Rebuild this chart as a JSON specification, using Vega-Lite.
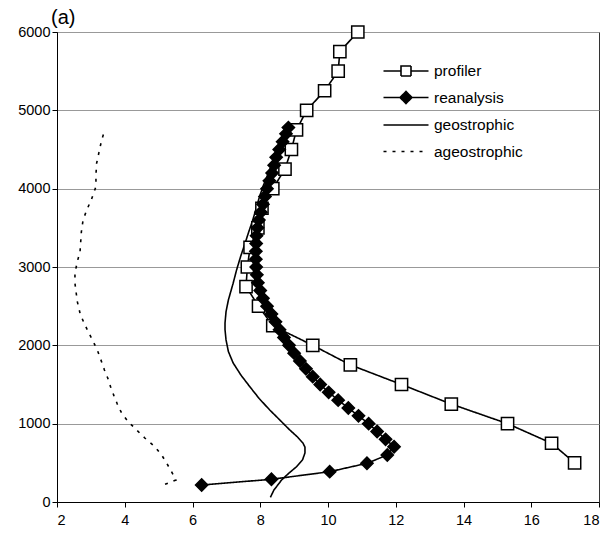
{
  "$schema": "https://vega.github.io/schema/vega-lite/v6.json",
  "width": 542,
  "height": 470,
  "autosize": "none",
  "padding": {"left": 57, "top": 32, "right": 11, "bottom": 37},
  "background": "white",
  "title": {"text": "(a)", "anchor": "start", "frame": "group", "fontSize": 20, "font": "Liberation Sans", "fontWeight": "normal", "color": "black", "dx": -6, "offset": -25, "baseline": "bottom"},
  "config": {
    "view": {"stroke": "#333", "strokeWidth": 1},
    "axis": {"labelFont": "Liberation Sans", "labelFontSize": 14.5, "labelColor": "black", "domainColor": "black", "tickColor": "black", "tickSize": 5, "title": null}
  },
  "data": {"values": [
    {"series": "profiler", "alt": 500, "speed": 17.28},
    {"series": "profiler", "alt": 750, "speed": 16.6},
    {"series": "profiler", "alt": 1000, "speed": 15.3},
    {"series": "profiler", "alt": 1250, "speed": 13.64},
    {"series": "profiler", "alt": 1500, "speed": 12.17},
    {"series": "profiler", "alt": 1750, "speed": 10.66},
    {"series": "profiler", "alt": 2000, "speed": 9.55},
    {"series": "profiler", "alt": 2250, "speed": 8.37},
    {"series": "profiler", "alt": 2500, "speed": 7.95},
    {"series": "profiler", "alt": 2750, "speed": 7.58},
    {"series": "profiler", "alt": 3000, "speed": 7.62},
    {"series": "profiler", "alt": 3250, "speed": 7.7},
    {"series": "profiler", "alt": 3500, "speed": 7.93},
    {"series": "profiler", "alt": 3750, "speed": 8.05},
    {"series": "profiler", "alt": 4000, "speed": 8.37},
    {"series": "profiler", "alt": 4250, "speed": 8.73},
    {"series": "profiler", "alt": 4500, "speed": 8.92},
    {"series": "profiler", "alt": 4750, "speed": 9.07},
    {"series": "profiler", "alt": 5000, "speed": 9.37},
    {"series": "profiler", "alt": 5250, "speed": 9.9},
    {"series": "profiler", "alt": 5500, "speed": 10.3},
    {"series": "profiler", "alt": 5750, "speed": 10.35},
    {"series": "profiler", "alt": 6000, "speed": 10.88},
    {"series": "reanalysis", "alt": 217, "speed": 6.27},
    {"series": "reanalysis", "alt": 290, "speed": 8.33},
    {"series": "reanalysis", "alt": 387, "speed": 10.05},
    {"series": "reanalysis", "alt": 494, "speed": 11.15},
    {"series": "reanalysis", "alt": 600, "speed": 11.75},
    {"series": "reanalysis", "alt": 706, "speed": 11.95},
    {"series": "reanalysis", "alt": 800, "speed": 11.7},
    {"series": "reanalysis", "alt": 900, "speed": 11.45},
    {"series": "reanalysis", "alt": 1000, "speed": 11.2},
    {"series": "reanalysis", "alt": 1100, "speed": 10.9},
    {"series": "reanalysis", "alt": 1200, "speed": 10.6},
    {"series": "reanalysis", "alt": 1300, "speed": 10.3},
    {"series": "reanalysis", "alt": 1400, "speed": 10.02},
    {"series": "reanalysis", "alt": 1500, "speed": 9.77},
    {"series": "reanalysis", "alt": 1600, "speed": 9.55},
    {"series": "reanalysis", "alt": 1700, "speed": 9.35},
    {"series": "reanalysis", "alt": 1800, "speed": 9.17},
    {"series": "reanalysis", "alt": 1900, "speed": 9.0},
    {"series": "reanalysis", "alt": 2000, "speed": 8.85},
    {"series": "reanalysis", "alt": 2100, "speed": 8.7},
    {"series": "reanalysis", "alt": 2200, "speed": 8.57},
    {"series": "reanalysis", "alt": 2300, "speed": 8.45},
    {"series": "reanalysis", "alt": 2400, "speed": 8.33},
    {"series": "reanalysis", "alt": 2500, "speed": 8.2},
    {"series": "reanalysis", "alt": 2600, "speed": 8.08},
    {"series": "reanalysis", "alt": 2700, "speed": 8.0},
    {"series": "reanalysis", "alt": 2800, "speed": 7.93},
    {"series": "reanalysis", "alt": 2900, "speed": 7.9},
    {"series": "reanalysis", "alt": 3000, "speed": 7.88},
    {"series": "reanalysis", "alt": 3100, "speed": 7.87},
    {"series": "reanalysis", "alt": 3200, "speed": 7.87},
    {"series": "reanalysis", "alt": 3300, "speed": 7.88},
    {"series": "reanalysis", "alt": 3400, "speed": 7.89},
    {"series": "reanalysis", "alt": 3500, "speed": 7.92},
    {"series": "reanalysis", "alt": 3600, "speed": 7.96},
    {"series": "reanalysis", "alt": 3700, "speed": 8.02},
    {"series": "reanalysis", "alt": 3800, "speed": 8.08},
    {"series": "reanalysis", "alt": 3900, "speed": 8.14},
    {"series": "reanalysis", "alt": 4000, "speed": 8.2},
    {"series": "reanalysis", "alt": 4100, "speed": 8.27},
    {"series": "reanalysis", "alt": 4200, "speed": 8.35},
    {"series": "reanalysis", "alt": 4300, "speed": 8.41},
    {"series": "reanalysis", "alt": 4400, "speed": 8.47},
    {"series": "reanalysis", "alt": 4500, "speed": 8.56},
    {"series": "reanalysis", "alt": 4600, "speed": 8.66},
    {"series": "reanalysis", "alt": 4700, "speed": 8.76},
    {"series": "reanalysis", "alt": 4780, "speed": 8.83},
    {"series": "geostrophic", "alt": 60, "speed": 8.3},
    {"series": "geostrophic", "alt": 150, "speed": 8.4},
    {"series": "geostrophic", "alt": 281, "speed": 8.63},
    {"series": "geostrophic", "alt": 370, "speed": 8.85},
    {"series": "geostrophic", "alt": 450, "speed": 9.07},
    {"series": "geostrophic", "alt": 540, "speed": 9.25},
    {"series": "geostrophic", "alt": 626, "speed": 9.32},
    {"series": "geostrophic", "alt": 700, "speed": 9.32},
    {"series": "geostrophic", "alt": 753, "speed": 9.26},
    {"series": "geostrophic", "alt": 830, "speed": 9.1},
    {"series": "geostrophic", "alt": 920, "speed": 8.87},
    {"series": "geostrophic", "alt": 1050, "speed": 8.57},
    {"series": "geostrophic", "alt": 1175, "speed": 8.28},
    {"series": "geostrophic", "alt": 1320, "speed": 7.97},
    {"series": "geostrophic", "alt": 1473, "speed": 7.69},
    {"series": "geostrophic", "alt": 1620, "speed": 7.43},
    {"series": "geostrophic", "alt": 1775, "speed": 7.2},
    {"series": "geostrophic", "alt": 1920, "speed": 7.06},
    {"series": "geostrophic", "alt": 2069, "speed": 6.99},
    {"series": "geostrophic", "alt": 2200, "speed": 6.96},
    {"series": "geostrophic", "alt": 2285, "speed": 6.96},
    {"series": "geostrophic", "alt": 2430, "speed": 6.99},
    {"series": "geostrophic", "alt": 2580, "speed": 7.06},
    {"series": "geostrophic", "alt": 2793, "speed": 7.2},
    {"series": "geostrophic", "alt": 2960, "speed": 7.3},
    {"series": "geostrophic", "alt": 3133, "speed": 7.42},
    {"series": "geostrophic", "alt": 3300, "speed": 7.55},
    {"series": "geostrophic", "alt": 3435, "speed": 7.65},
    {"series": "geostrophic", "alt": 3600, "speed": 7.78},
    {"series": "geostrophic", "alt": 3750, "speed": 7.88},
    {"series": "geostrophic", "alt": 3900, "speed": 7.98},
    {"series": "geostrophic", "alt": 4050, "speed": 8.1},
    {"series": "geostrophic", "alt": 4200, "speed": 8.24},
    {"series": "geostrophic", "alt": 4350, "speed": 8.38},
    {"series": "geostrophic", "alt": 4500, "speed": 8.52},
    {"series": "geostrophic", "alt": 4650, "speed": 8.66},
    {"series": "geostrophic", "alt": 4780, "speed": 8.8},
    {"series": "ageostrophic", "alt": 226, "speed": 5.19},
    {"series": "ageostrophic", "alt": 281, "speed": 5.51},
    {"series": "ageostrophic", "alt": 387, "speed": 5.38},
    {"series": "ageostrophic", "alt": 494, "speed": 5.24},
    {"series": "ageostrophic", "alt": 600, "speed": 5.09},
    {"series": "ageostrophic", "alt": 706, "speed": 4.89},
    {"series": "ageostrophic", "alt": 814, "speed": 4.6},
    {"series": "ageostrophic", "alt": 920, "speed": 4.35},
    {"series": "ageostrophic", "alt": 1026, "speed": 4.1},
    {"series": "ageostrophic", "alt": 1133, "speed": 3.91},
    {"series": "ageostrophic", "alt": 1251, "speed": 3.78},
    {"series": "ageostrophic", "alt": 1358, "speed": 3.68},
    {"series": "ageostrophic", "alt": 1473, "speed": 3.58},
    {"series": "ageostrophic", "alt": 1580, "speed": 3.5},
    {"series": "ageostrophic", "alt": 1686, "speed": 3.4},
    {"series": "ageostrophic", "alt": 1822, "speed": 3.29},
    {"series": "ageostrophic", "alt": 1941, "speed": 3.19},
    {"series": "ageostrophic", "alt": 2047, "speed": 3.07},
    {"series": "ageostrophic", "alt": 2175, "speed": 2.92},
    {"series": "ageostrophic", "alt": 2303, "speed": 2.78},
    {"series": "ageostrophic", "alt": 2410, "speed": 2.68},
    {"series": "ageostrophic", "alt": 2558, "speed": 2.6},
    {"series": "ageostrophic", "alt": 2793, "speed": 2.53},
    {"series": "ageostrophic", "alt": 2921, "speed": 2.53},
    {"series": "ageostrophic", "alt": 3069, "speed": 2.6},
    {"series": "ageostrophic", "alt": 3197, "speed": 2.68},
    {"series": "ageostrophic", "alt": 3452, "speed": 2.72},
    {"series": "ageostrophic", "alt": 3601, "speed": 2.77},
    {"series": "ageostrophic", "alt": 3729, "speed": 2.88},
    {"series": "ageostrophic", "alt": 3866, "speed": 3.02},
    {"series": "ageostrophic", "alt": 4027, "speed": 3.15},
    {"series": "ageostrophic", "alt": 4176, "speed": 3.15},
    {"series": "ageostrophic", "alt": 4325, "speed": 3.17},
    {"series": "ageostrophic", "alt": 4466, "speed": 3.24},
    {"series": "ageostrophic", "alt": 4623, "speed": 3.32},
    {"series": "ageostrophic", "alt": 4760, "speed": 3.42}
  ]},
  "encoding": {
    "x": {"field": "speed", "type": "quantitative", "scale": {"domain": [2, 18], "nice": false, "zero": false}, "axis": {"values": [2, 4, 6, 8, 10, 12, 14, 16, 18], "grid": false, "labelPadding": 6, "format": "d"}},
    "y": {"field": "alt", "type": "quantitative", "scale": {"domain": [0, 6000], "nice": false}, "axis": {"values": [0, 1000, 2000, 3000, 4000, 5000, 6000], "grid": true, "gridColor": "#999", "gridWidth": 1, "labelPadding": 2, "format": "d"}}
  },
  "layer": [
    {
      "mark": {"type": "line", "color": "black", "strokeWidth": 1.6},
      "encoding": {
        "order": {"field": "alt", "type": "quantitative"},
        "strokeDash": {
          "field": "series", "type": "nominal",
          "scale": {"domain": ["profiler", "reanalysis", "geostrophic", "ageostrophic"], "range": [[1, 0], [1, 0], [1, 0], [3, 6]]},
          "legend": {
            "orient": "none", "legendX": 338, "legendY": 28, "title": null, "padding": 0,
            "symbolSize": 400, "symbolStrokeWidth": 1.6, "symbolStrokeColor": "black", "symbolType": "stroke",
            "labelFont": "Liberation Sans", "labelFontSize": 15.5, "labelColor": "black", "labelOffset": 17, "rowPadding": 6.5,
            "encode": {"symbols": {"update": {
              "shape": {"signal": "datum.value === 'profiler' ? 'M-2.25,0H-0.5M0.5,0H2.25M-0.5,-0.5H0.5V0.5H-0.5Z' : datum.value === 'reanalysis' ? 'M-2.25,0H2.25M-0.6,0L0,-0.6L0.6,0L0,0.6Z' : 'M-2.25,0H2.25'"},
              "fill": {"signal": "datum.value === 'profiler' ? 'white' : datum.value === 'reanalysis' ? 'black' : 'transparent'"},
              "fillOpacity": {"value": 1},
              "stroke": {"value": "black"},
              "strokeWidth": {"value": 1.6},
              "strokeOpacity": {"value": 1}
            }}}
          }
        }
      }
    },
    {
      "transform": [{"filter": "datum.series === 'profiler' || datum.series === 'reanalysis'"}],
      "mark": {"type": "point", "stroke": "black", "strokeWidth": 1.5, "size": 150, "opacity": 1, "filled": false},
      "encoding": {
        "shape": {"field": "series", "type": "nominal", "scale": {"domain": ["profiler", "reanalysis"], "range": ["square", "diamond"]}, "legend": null},
        "fill": {"field": "series", "type": "nominal", "scale": {"domain": ["profiler", "reanalysis"], "range": ["white", "black"]}, "legend": null}
      }
    }
  ]
}
